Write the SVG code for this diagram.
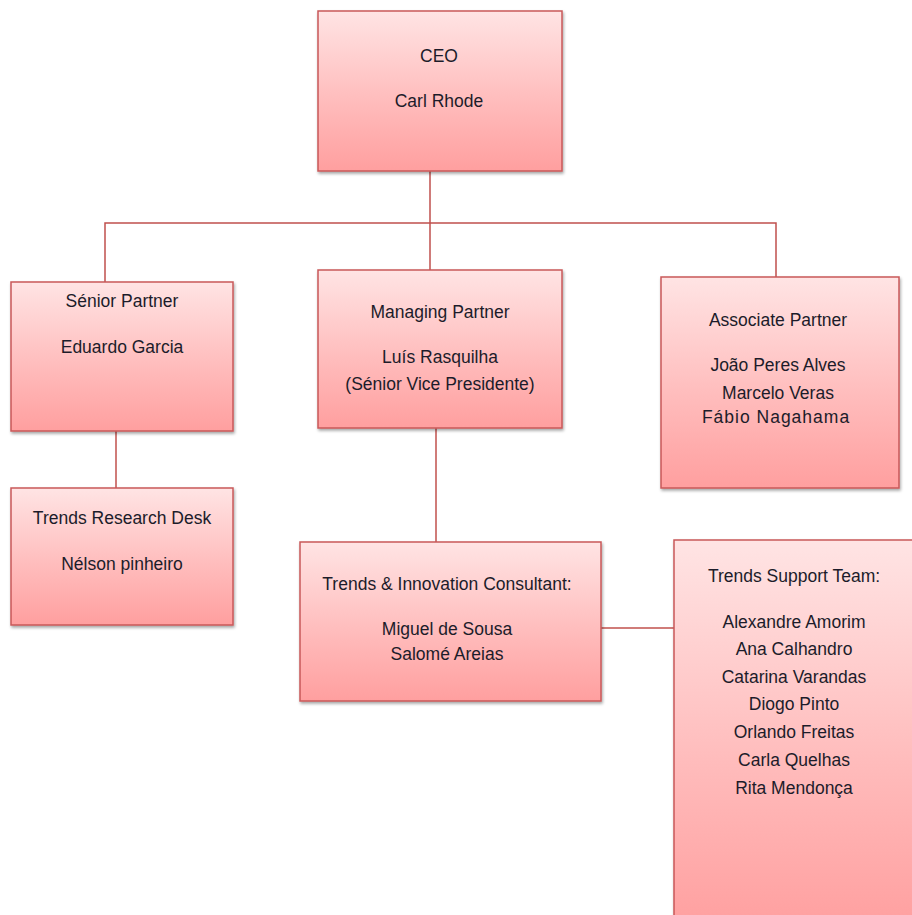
<svg xmlns="http://www.w3.org/2000/svg" width="912" height="915" viewBox="0 0 912 915">
  <defs>
    <linearGradient id="boxFill" x1="0" y1="0" x2="0" y2="1">
      <stop offset="0" stop-color="#FFE4E4"/>
      <stop offset="0.55" stop-color="#FFBDBD"/>
      <stop offset="1" stop-color="#FF9F9F"/>
    </linearGradient>
    <filter id="shadow" x="-5%" y="-5%" width="115%" height="115%">
      <feDropShadow dx="1" dy="2" stdDeviation="1.5" flood-color="#000" flood-opacity="0.35"/>
    </filter>
  </defs>
  <style>
    .box { fill: url(#boxFill); stroke: #C9585A; stroke-width: 1.5; filter: url(#shadow); }
    .link { fill: none; stroke: #C0504D; stroke-width: 1.5; }
    text { font-family: "Liberation Sans", "DejaVu Sans", sans-serif; font-size: 17.5px; fill: #1c1c2a; text-anchor: middle; }
  </style>
  <rect width="912" height="915" fill="#ffffff"/>

  <g id="connectors">
    <path class="link" d="M430 171 V223 M105 282 V223 H776 V277 M430 223 V270"/>
    <path class="link" d="M116 431 V488"/>
    <path class="link" d="M436 428 V542"/>
    <path class="link" d="M601 628 H674"/>
  </g>

  <g id="ceo">
    <rect class="box" x="318" y="11" width="244" height="160"/>
    <text x="439" y="62">CEO</text>
    <text x="439" y="107">Carl Rhode</text>
  </g>

  <g id="senior-partner">
    <rect class="box" x="11" y="282" width="222" height="149"/>
    <text x="122" y="307">Sénior Partner</text>
    <text x="122" y="353">Eduardo Garcia</text>
  </g>

  <g id="managing-partner">
    <rect class="box" x="318" y="270" width="244" height="158"/>
    <text x="440" y="318">Managing Partner</text>
    <text x="440" y="363">Luís Rasquilha</text>
    <text x="440" y="390">(Sénior Vice Presidente)</text>
  </g>

  <g id="associate-partner">
    <rect class="box" x="661" y="277" width="238" height="211"/>
    <text x="778" y="326">Associate Partner</text>
    <text x="778" y="371">João Peres Alves</text>
    <text x="778" y="399">Marcelo Veras</text>
    <text x="776" y="423" letter-spacing="1">Fábio Nagahama</text>
  </g>

  <g id="trends-research-desk">
    <rect class="box" x="11" y="488" width="222" height="137"/>
    <text x="122" y="524">Trends Research Desk</text>
    <text x="122" y="570">Nélson pinheiro</text>
  </g>

  <g id="trends-innovation-consultant">
    <rect class="box" x="300" y="542" width="301" height="159"/>
    <text x="447" y="590">Trends &amp; Innovation Consultant:</text>
    <text x="447" y="635">Miguel de Sousa</text>
    <text x="447" y="660">Salomé Areias</text>
  </g>

  <g id="trends-support-team">
    <rect class="box" x="674" y="540" width="250" height="390"/>
    <text x="794" y="582">Trends Support Team:</text>
    <text x="794" y="628">Alexandre Amorim</text>
    <text x="794" y="655">Ana Calhandro</text>
    <text x="794" y="683">Catarina Varandas</text>
    <text x="794" y="710">Diogo Pinto</text>
    <text x="794" y="738">Orlando Freitas</text>
    <text x="794" y="766">Carla Quelhas</text>
    <text x="794" y="794">Rita Mendonça</text>
  </g>
</svg>
